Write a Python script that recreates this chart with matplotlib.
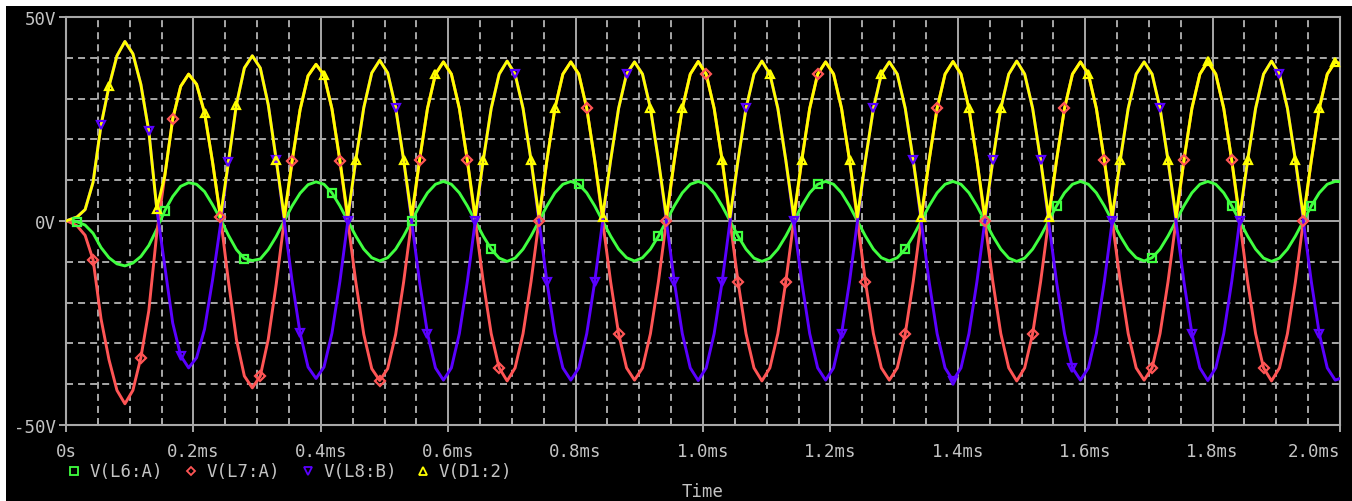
import numpy as np
import matplotlib
matplotlib.use('Agg')
import matplotlib.pyplot as plt
from matplotlib.lines import Line2D
from matplotlib.patches import Rectangle

W, H = 1352, 502

# sample times in ms: t=0, then every 12.5us from 5us, then 2.0ms
t_ms = np.concatenate(([0.0], 0.005 + 0.0125 * np.arange(160), [2.0]))

trace_names = ['V(L6:A)', 'V(L7:A)', 'V(L8:B)', 'V(D1:2)']

# V(L6:A)
v_l6a = [0.0,
         0.0, -0.2, -1.0, -3.0, -6.5, -9.0, -10.5, -11.0, -10.3, -8.7, -6.0, -2.0, 2.5, 6.0, 8.5, 9.4,
         9.0, 7.2, 4.0, 0.5, -3.5, -7.0, -9.2, -9.7, -9.3, -7.0, -3.8, 0.0, 3.7, 6.8, 8.9, 9.6,
         9.0, 6.9, 3.7, 0.0, -3.7, -6.9, -9.0, -9.8, -9.0, -6.9, -3.7, 0.0, 3.7, 6.9, 9.0, 9.7,
         9.0, 6.9, 3.7, 0.0, -3.7, -6.9, -9.1, -9.9, -9.1, -6.9, -3.7, 0.0, 3.7, 6.9, 9.0, 9.7,
         9.0, 6.9, 3.7, 0.0, -3.7, -6.9, -9.0, -9.8, -9.0, -6.9, -3.7, 0.0, 3.7, 6.9, 9.0, 9.7,
         9.0, 6.9, 3.7, 0.0, -3.7, -6.9, -9.1, -9.9, -9.1, -6.9, -3.7, 0.0, 3.7, 6.9, 9.0, 9.7,
         9.0, 6.9, 3.7, 0.0, -3.7, -6.9, -9.0, -9.8, -9.0, -6.9, -3.7, 0.0, 3.7, 6.9, 9.0, 9.7,
         9.0, 6.9, 3.7, 0.0, -3.7, -6.9, -9.1, -9.9, -9.1, -6.9, -3.7, 0.0, 3.7, 6.9, 9.0, 9.7,
         9.0, 6.9, 3.7, 0.0, -3.7, -6.9, -9.0, -9.8, -9.0, -6.9, -3.7, 0.0, 3.7, 6.9, 9.0, 9.7,
         9.0, 6.9, 3.7, 0.0, -3.7, -6.9, -9.1, -9.9, -9.1, -6.9, -3.7, 0.0, 3.7, 6.9, 9.0, 9.7,
         9.65]

# V(L7:A)
v_l7a = [0.0,
         -0.2, -1.2, -3.5, -9.5, -24.0, -34.0, -41.5, -44.8, -41.5, -33.5, -22.0, -3.0, 11.0, 25.0, 33.0, 36.0,
         33.5, 26.5, 14.5, 1.0, -14.8, -29.0, -38.0, -40.9, -38.0, -29.0, -15.5, 0.0, 14.7, 27.3, 35.6, 38.4,
         35.8, 27.5, 14.8, 0.0, -15.0, -27.8, -36.2, -39.1, -36.2, -27.8, -15.0, 0.0, 14.9, 27.6, 36.0, 39.0,
         36.0, 27.6, 14.9, 0.0, -14.9, -27.6, -36.0, -39.2, -36.0, -27.6, -14.9, 0.0, 14.9, 27.6, 36.0, 39.0,
         36.0, 27.6, 14.9, 0.0, -14.9, -27.6, -36.0, -39.0, -36.0, -27.6, -14.9, 0.0, 14.9, 27.6, 36.0, 39.1,
         36.0, 27.6, 14.9, 0.0, -14.9, -27.6, -36.0, -39.2, -36.0, -27.6, -14.9, 0.0, 14.9, 27.6, 36.0, 39.0,
         36.0, 27.6, 14.9, 0.0, -14.9, -27.6, -36.0, -39.0, -36.0, -27.6, -14.9, 0.0, 14.9, 27.6, 36.0, 39.1,
         36.0, 27.6, 14.9, 0.0, -14.9, -27.6, -36.0, -39.2, -36.0, -27.6, -14.9, 0.0, 14.9, 27.6, 36.0, 39.0,
         36.0, 27.6, 14.9, 0.0, -14.9, -27.6, -36.0, -39.0, -36.0, -27.6, -14.9, 0.0, 14.9, 27.6, 36.0, 39.1,
         36.0, 27.6, 14.9, 0.0, -14.9, -27.6, -36.0, -39.2, -36.0, -27.6, -14.9, 0.0, 14.9, 27.6, 36.0, 39.0,
         38.6]

# V(L8:B)
v_l8b = [0.0,
         0.3, 1.0, 2.8, 9.5, 23.5, 33.0, 40.5, 44.0, 41.0, 33.5, 22.0, 3.0, -11.0, -25.0, -33.0, -36.0,
         -33.5, -26.5, -14.5, -1.0, 14.5, 28.5, 37.5, 40.5, 37.5, 28.5, 15.0, 0.0, -14.8, -27.5, -35.8, -38.6,
         -35.8, -27.5, -14.8, 0.0, 15.0, 27.8, 36.3, 39.4, 36.3, 27.8, 15.0, 0.0, -14.9, -27.6, -36.0, -39.0,
         -36.0, -27.6, -14.9, 0.0, 14.9, 27.6, 36.0, 39.2, 36.0, 27.6, 14.9, 0.0, -14.9, -27.6, -36.0, -39.0,
         -36.0, -27.6, -14.9, 0.0, 14.9, 27.6, 36.0, 39.0, 36.0, 27.6, 14.9, 0.0, -14.9, -27.6, -36.0, -39.1,
         -36.0, -27.6, -14.9, 0.0, 14.9, 27.6, 36.0, 39.2, 36.0, 27.6, 14.9, 0.0, -14.9, -27.6, -36.0, -39.0,
         -36.0, -27.6, -14.9, 0.0, 14.9, 27.6, 36.0, 39.0, 36.0, 27.6, 14.9, 0.0, -14.9, -27.6, -36.0, -39.1,
         -36.0, -27.6, -14.9, 0.0, 14.9, 27.6, 36.0, 39.2, 36.0, 27.6, 14.9, 0.0, -14.9, -27.6, -36.0, -39.0,
         -36.0, -27.6, -14.9, 0.0, 14.9, 27.6, 36.0, 39.0, 36.0, 27.6, 14.9, 0.0, -14.9, -27.6, -36.0, -39.1,
         -36.0, -27.6, -14.9, 0.0, 14.9, 27.6, 36.0, 39.2, 36.0, 27.6, 14.9, 0.0, -14.9, -27.6, -36.0, -39.0,
         -38.6]

# V(D1:2)
v_d12 = [0.0,
         0.3, 1.0, 2.8, 9.5, 23.5, 33.0, 40.5, 44.0, 41.0, 33.5, 22.0, 3.0, 11.0, 25.0, 33.0, 36.0,
         33.5, 26.5, 14.5, 1.0, 14.5, 28.5, 37.5, 40.5, 37.5, 28.5, 15.0, 1.0, 14.7, 27.3, 35.6, 38.4,
         35.8, 27.5, 14.8, 1.0, 15.0, 27.8, 36.3, 39.4, 36.3, 27.8, 15.0, 1.0, 14.9, 27.6, 36.0, 39.0,
         36.0, 27.6, 14.9, 1.0, 14.9, 27.6, 36.0, 39.2, 36.0, 27.6, 14.9, 1.0, 14.9, 27.6, 36.0, 39.0,
         36.0, 27.6, 14.9, 1.0, 14.9, 27.6, 36.0, 39.0, 36.0, 27.6, 14.9, 1.0, 14.9, 27.6, 36.0, 39.1,
         36.0, 27.6, 14.9, 1.0, 14.9, 27.6, 36.0, 39.2, 36.0, 27.6, 14.9, 1.0, 14.9, 27.6, 36.0, 39.0,
         36.0, 27.6, 14.9, 1.0, 14.9, 27.6, 36.0, 39.0, 36.0, 27.6, 14.9, 1.0, 14.9, 27.6, 36.0, 39.1,
         36.0, 27.6, 14.9, 1.0, 14.9, 27.6, 36.0, 39.2, 36.0, 27.6, 14.9, 1.0, 14.9, 27.6, 36.0, 39.0,
         36.0, 27.6, 14.9, 1.0, 14.9, 27.6, 36.0, 39.0, 36.0, 27.6, 14.9, 1.0, 14.9, 27.6, 36.0, 39.1,
         36.0, 27.6, 14.9, 1.0, 14.9, 27.6, 36.0, 39.2, 36.0, 27.6, 14.9, 1.0, 14.9, 27.6, 36.0, 39.0,
         38.6]

# sample indices where the simulator drew its trace symbols
l6a_marks = [2, 13, 23, 34, 44, 54, 65, 75, 85, 95, 106, 116, 125, 137, 147, 157]
l7a_marks = [4, 10, 14, 20, 25, 29, 35, 40, 45, 51, 55, 60, 66, 70, 76, 81, 85, 91, 95, 101,
             106, 110, 116, 122, 126, 131, 137, 141, 147, 151, 156]
l8b_marks = [5, 11, 15, 21, 27, 30, 36, 42, 46, 52, 57, 61, 67, 71, 77, 83, 86, 92, 98, 102,
             107, 112, 117, 123, 127, 132, 138, 142, 148, 153, 158]
d12_marks = [6, 12, 18, 22, 27, 33, 37, 43, 47, 53, 59, 62, 68, 74, 78, 83, 89, 93, 99, 103,
             108, 114, 118, 124, 129, 133, 139, 144, 149, 155, 158, 160]

x_ticks = np.arange(0, 2.01, 0.2)
x_labels = ['0s'] + ['%.1fms' % v for v in x_ticks[1:]]
y_ticks = [-50, 0, 50]
y_labels = ['-50V', '0V', '50V']

colors = ['#40ff40', '#ff5555', '#5a00ff', '#ffff00']
symbols = ['s', 'D', 'v', '^']
grid_c = '#a8a8a8'
text_c = '#c4c4c4'

plt.rcParams['font.family'] = ['DejaVu Sans Mono']

fig = plt.figure(figsize=(W / 100, H / 100), dpi=100, facecolor='white')
fig.add_artist(Rectangle((6 / W, 0), 1 - 6 / W, 1 - 7 / H, transform=fig.transFigure,
                         facecolor='black', edgecolor='none', zorder=0))

ax = fig.add_axes([66 / W, 1 - 426 / H, (1340 - 66) / W, (426 - 18) / H])
ax.set_facecolor('black')

series = [v_l6a, v_l7a, v_l8b, v_d12]
marks = [l6a_marks, l7a_marks, l8b_marks, d12_marks]

# traces first, symbols on top of every trace (as the probe window does)
for vals, c in zip(series, colors):
    ax.plot(t_ms, vals, color=c, lw=2.1, solid_joinstyle='round', zorder=3)
for vals, mk, c, sym in zip(series, marks, colors, symbols):
    ms = 5.0 if sym == 'D' else 6.0
    ax.plot(t_ms, vals, ls='none', marker=sym, markevery=mk, ms=ms,
            mfc='none', mec=c, mew=1.6, zorder=4)

ax.set_xlim(0, 2.0)
ax.set_ylim(-50, 50)
ax.set_xticks(x_ticks)
ax.set_xticklabels(x_labels)
ax.get_xticklabels()[-1].set_horizontalalignment('right')
ax.set_yticks(y_ticks)
ax.set_yticklabels(y_labels)
ax.set_xticks(np.arange(0, 2.001, 0.05), minor=True)
ax.set_yticks(np.arange(-50, 51, 10), minor=True)

ax.grid(which='major', color=grid_c, lw=1.4, ls='-', zorder=1)
ax.grid(which='minor', color=grid_c, lw=1.4, ls=(0, (3.6, 2.6)), zorder=1)
ax.set_axisbelow(True)

for s in ax.spines.values():
    s.set_color(grid_c)
    s.set_linewidth(1.5)

ax.tick_params(axis='x', which='major', direction='out', length=5, width=1.4, color=grid_c,
               labelcolor=text_c, labelsize=12.5, pad=7)
ax.tick_params(axis='x', which='minor', direction='in', length=3, width=1.4, color=grid_c)
ax.tick_params(axis='y', which='major', direction='out', length=5, width=1.4, color=grid_c,
               labelcolor=text_c, labelsize=12.5, pad=2)
ax.tick_params(axis='y', which='minor', length=0)

# legend row under the axis
leg_x = [74, 191, 308, 423]
for lx, name, c, sym in zip(leg_x, trace_names, colors, symbols):
    fig.add_artist(Line2D([lx / W], [1 - 472 / H], transform=fig.transFigure, ls='none',
                          marker=sym, ms=4.5 if sym == 'D' else 5.5, mfc='none', mec=c, mew=1.3))
    fig.text((lx + 16) / W, 1 - 472 / H, name, color=text_c, fontsize=12.5, va='center', ha='left')

fig.text(703 / W, 1 - 492 / H, 'Time', color=text_c, fontsize=12.5, va='center', ha='center')

fig.savefig('out.png', dpi=100, facecolor='white')
